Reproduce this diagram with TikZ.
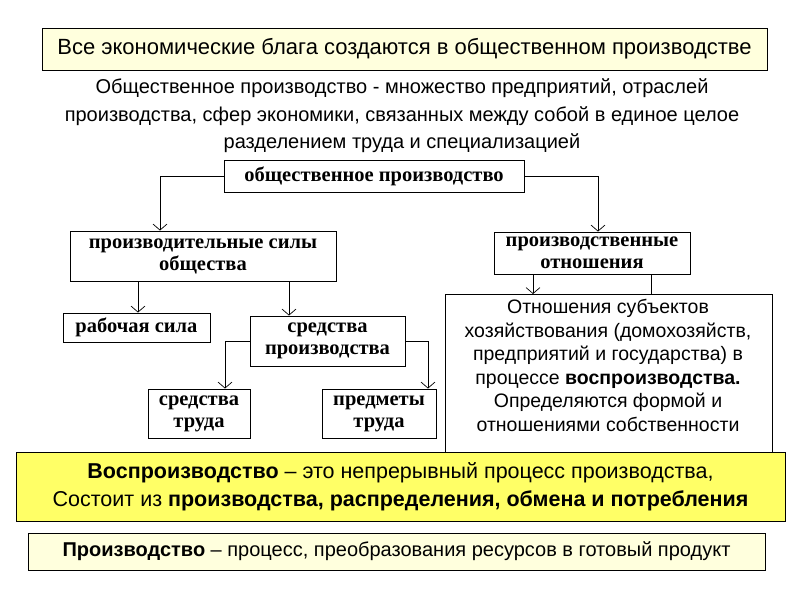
\documentclass[tikz,border=0pt]{standalone}
\usepackage{fontspec}
\setmainfont{Liberation Sans}
\newfontfamily\serifb{Liberation Serif}
\usetikzlibrary{arrows.meta}
\definecolor{ly}{HTML}{FFFFDD}
\definecolor{yy}{HTML}{FFFF66}
\begin{document}
\begin{tikzpicture}[x=1pt,y=-1pt,
 tb/.style={draw,line width=0.9pt,fill=white,align=center,inner sep=1pt,font=\serifb\bfseries\fontsize{20.5}{22}\selectfont},
 arr/.style={line width=0.7pt,-{Straight Barb[length=6pt,width=14pt]}},
 ln/.style={line width=0.7pt}]
\useasboundingbox (0,0) rectangle (800,600);
\fill[white] (0,0) rectangle (800,600);
\node[draw,fill=ly,minimum width=725,minimum height=42,font=\fontsize{22}{24}\selectfont] (top) at (404.5,49) {Все экономические блага создаются в общественном производстве};
\node[align=center,font=\fontsize{20}{27.5}\selectfont] (def) at (402,116) {Общественное производство - множество предприятий, отраслей\\производства, сфер экономики, связанных между собой в единое целое\\разделением труда и специализацией};
\node[tb,minimum width=300,minimum height=32] (op) at (374,176) {общественное производство};
\node[tb,minimum width=266,minimum height=50] (ps) at (203,256) {производительные силы\\общества};
\node[tb,minimum width=196,minimum height=42] (po) at (592,253) {производственные\\отношения};
\node[tb,minimum width=147,minimum height=29] (rs) at (136.5,327.5) {рабочая сила};
\node[tb,minimum width=155,minimum height=50] (sp) at (327.5,341) {средства\\производства};
\node[tb,minimum width=102,minimum height=49] (st) at (199,413.5) {средства\\труда};
\node[tb,minimum width=114,minimum height=49] (pt) at (379,413.5) {предметы\\труда};
\node[draw,fill=white,minimum width=327,minimum height=170,anchor=north west,inner sep=0] (ot) at (445,294) {};
\node[align=center,font=\fontsize{19.5}{23.5}\selectfont,anchor=north] (ott) at (608,296) {Отношения субъектов\\хозяйствования (домохозяйств,\\предприятий и государства) в\\процессе \textbf{воспроизводства.}\\Определяются формой и\\отношениями собственности};
\node[draw,fill=yy,minimum width=769,minimum height=69,align=center,font=\fontsize{21.5}{28}\selectfont] (vp) at (400.5,486.5) {\textbf{Воспроизводство} – это непрерывный процесс производства,\\Состоит из \textbf{производства, распределения, обмена и потребления}};
\node[draw,fill=ly,minimum width=737,minimum height=37,font=\fontsize{20}{22}\selectfont] (pr) at (396.5,551.5) {\textbf{Производство} – процесс, преобразования ресурсов в готовый продукт};
\draw[arr] (op.west) -| (ps.north -| 160,0);
\draw[arr] (op.east) -| (po.north -| 598,0);
\draw[arr] (ps.south -| 138,0) -- (rs.north -| 138,0);
\draw[arr] (ps.south -| 289,0) -- (sp.north -| 289,0);
\draw[arr] (sp.west) -| (st.north -| 225,0);
\draw[arr] (sp.east) -| (pt.north -| 428,0);
\draw[arr] (po.south -| 533,0) -- (ot.north -| 533,0);
\draw[ln] (po.south -| 651,0) -- (ot.north -| 651,0);
\end{tikzpicture}
\end{document}
